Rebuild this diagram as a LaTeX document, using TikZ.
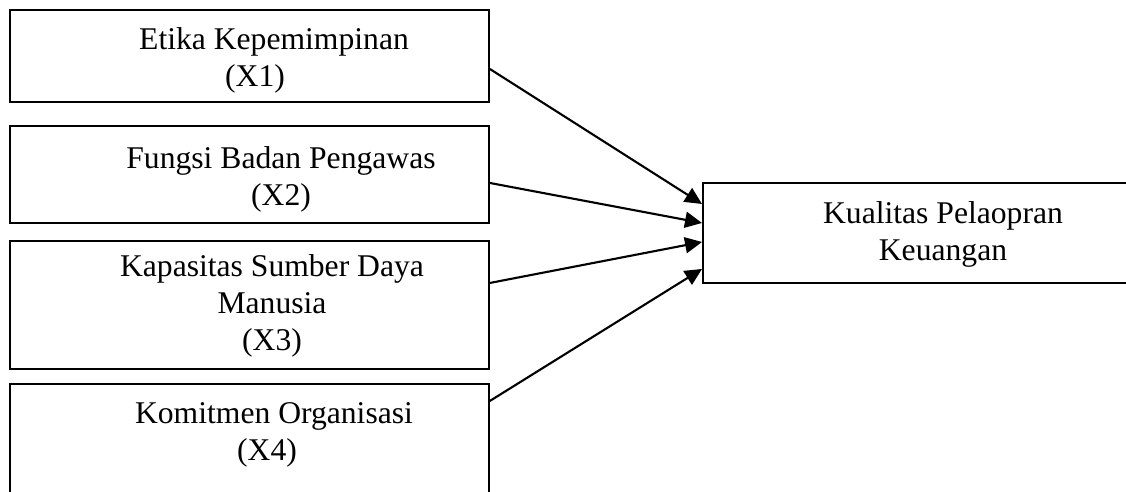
\documentclass[tikz,border=0pt]{standalone}
\usepackage{fontspec}
\setmainfont{Liberation Serif}
\usetikzlibrary{arrows.meta}

\tikzset{
  varbox/.style={draw,line width=1.1pt,rectangle,anchor=north west,inner sep=0pt},
  vartext/.style={anchor=north,align=center,inner sep=0pt,font=\fontsize{18}{21}\selectfont},
  panah/.style={-{Triangle[length=0.34cm,width=0.32cm]},line width=1.2pt}
}

\begin{document}
\begin{tikzpicture}[x=0.02cm,y=-0.02cm]
    \useasboundingbox (0,0) rectangle (1126,491);
    \clip (0,0) rectangle (1126,491);
    % kotak variabel bebas
    \node[varbox,minimum width=9.58cm,minimum height=1.84cm] (x1) at (9,9) {};
    \node[varbox,minimum width=9.58cm,minimum height=1.94cm] (x2) at (9,125) {};
    \node[varbox,minimum width=9.58cm,minimum height=2.56cm] (x3) at (9,240) {};
    \node[varbox,minimum width=9.58cm,minimum height=2.8cm] (x4) at (9,383) {};
    % kotak variabel terikat
    \node[varbox,minimum width=9cm,minimum height=2cm] (y) at (702,182) {};
    \node[vartext] (tx1) at (274,27) {Etika Kepemimpinan\\(X1)\hspace*{0.76cm}};
    \node[vartext] (tx2) at (281,146) {Fungsi Badan Pengawas\\(X2)};
    \node[vartext] (tx3) at (272,254) {Kapasitas Sumber Daya\\Manusia\\(X3)};
    \node[vartext] (tx4) at (274,402) {Komitmen Organisasi\\(X4)\hspace*{0.28cm}};
    \node[vartext] (ty) at (943,201) {Kualitas Pelaopran\\Keuangan};
    % panah
    \draw[panah] ([yshift=-0.26cm]x1.east) -- ([yshift=0.58cm]y.west);
    \draw[panah] ([yshift=-0.17cm]x2.east) -- ([yshift=0.2cm]y.west);
    \draw[panah] ([yshift=0.44cm]x3.east) -- ([yshift=-0.18cm]y.west);
    \draw[panah] ([yshift=1.06cm]x4.east) -- ([yshift=-0.72cm]y.west);
\end{tikzpicture}
\end{document}
